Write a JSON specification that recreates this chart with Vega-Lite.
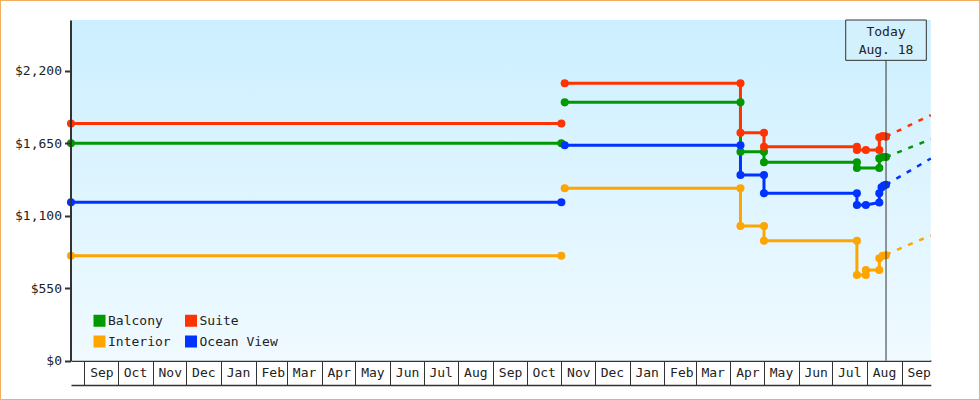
{
  "$schema": "https://vega.github.io/schema/vega-lite/v6.json",
  "width": 980,
  "height": 400,
  "autosize": {"type": "none"},
  "padding": 0,
  "background": "white",
  "config": {
    "view": {"stroke": "#f0b060", "strokeWidth": 2, "fill": "white"},
    "font": "DejaVu Sans Mono"
  },
  "datasets": {
    "prices": [
      {"cabin": "Balcony", "seg": 1, "seq": 1, "date": "2017-08-20", "price": 1650},
      {"cabin": "Balcony", "seg": 1, "seq": 2, "date": "2018-11-01", "price": 1650},
      {"cabin": "Balcony", "seg": 2, "seq": 3, "date": "2018-11-04", "price": 1960},
      {"cabin": "Balcony", "seg": 2, "seq": 4, "date": "2019-04-10", "price": 1960},
      {"cabin": "Balcony", "seg": 2, "seq": 5, "date": "2019-04-10", "price": 1585},
      {"cabin": "Balcony", "seg": 2, "seq": 6, "date": "2019-05-01", "price": 1585},
      {"cabin": "Balcony", "seg": 2, "seq": 7, "date": "2019-05-01", "price": 1505},
      {"cabin": "Balcony", "seg": 2, "seq": 8, "date": "2019-07-23", "price": 1505},
      {"cabin": "Balcony", "seg": 2, "seq": 9, "date": "2019-07-23", "price": 1462},
      {"cabin": "Balcony", "seg": 2, "seq": 10, "date": "2019-08-12", "price": 1462},
      {"cabin": "Balcony", "seg": 2, "seq": 11, "date": "2019-08-12", "price": 1535},
      {"cabin": "Balcony", "seg": 2, "seq": 12, "date": "2019-08-15", "price": 1545},
      {"cabin": "Balcony", "seg": 2, "seq": 13, "date": "2019-08-18", "price": 1545},
      {"cabin": "Suite", "seg": 1, "seq": 1, "date": "2017-08-20", "price": 1800},
      {"cabin": "Suite", "seg": 1, "seq": 2, "date": "2018-11-01", "price": 1800},
      {"cabin": "Suite", "seg": 2, "seq": 3, "date": "2018-11-04", "price": 2105},
      {"cabin": "Suite", "seg": 2, "seq": 4, "date": "2019-04-10", "price": 2105},
      {"cabin": "Suite", "seg": 2, "seq": 5, "date": "2019-04-10", "price": 1730},
      {"cabin": "Suite", "seg": 2, "seq": 6, "date": "2019-05-01", "price": 1730},
      {"cabin": "Suite", "seg": 2, "seq": 7, "date": "2019-05-01", "price": 1624},
      {"cabin": "Suite", "seg": 2, "seq": 8, "date": "2019-07-23", "price": 1624},
      {"cabin": "Suite", "seg": 2, "seq": 9, "date": "2019-07-23", "price": 1598},
      {"cabin": "Suite", "seg": 2, "seq": 10, "date": "2019-07-31", "price": 1598},
      {"cabin": "Suite", "seg": 2, "seq": 11, "date": "2019-08-12", "price": 1598},
      {"cabin": "Suite", "seg": 2, "seq": 12, "date": "2019-08-12", "price": 1695},
      {"cabin": "Suite", "seg": 2, "seq": 13, "date": "2019-08-15", "price": 1705},
      {"cabin": "Suite", "seg": 2, "seq": 14, "date": "2019-08-18", "price": 1700},
      {"cabin": "Interior", "seg": 1, "seq": 1, "date": "2017-08-20", "price": 797},
      {"cabin": "Interior", "seg": 1, "seq": 2, "date": "2018-11-01", "price": 797},
      {"cabin": "Interior", "seg": 2, "seq": 3, "date": "2018-11-04", "price": 1308},
      {"cabin": "Interior", "seg": 2, "seq": 4, "date": "2019-04-10", "price": 1308},
      {"cabin": "Interior", "seg": 2, "seq": 5, "date": "2019-04-10", "price": 1022},
      {"cabin": "Interior", "seg": 2, "seq": 6, "date": "2019-05-01", "price": 1022},
      {"cabin": "Interior", "seg": 2, "seq": 7, "date": "2019-05-01", "price": 910},
      {"cabin": "Interior", "seg": 2, "seq": 8, "date": "2019-07-23", "price": 910},
      {"cabin": "Interior", "seg": 2, "seq": 9, "date": "2019-07-23", "price": 650},
      {"cabin": "Interior", "seg": 2, "seq": 10, "date": "2019-07-31", "price": 650},
      {"cabin": "Interior", "seg": 2, "seq": 11, "date": "2019-07-31", "price": 688},
      {"cabin": "Interior", "seg": 2, "seq": 12, "date": "2019-08-12", "price": 688},
      {"cabin": "Interior", "seg": 2, "seq": 13, "date": "2019-08-12", "price": 777},
      {"cabin": "Interior", "seg": 2, "seq": 14, "date": "2019-08-15", "price": 797},
      {"cabin": "Interior", "seg": 2, "seq": 15, "date": "2019-08-18", "price": 800},
      {"cabin": "Ocean View", "seg": 1, "seq": 1, "date": "2017-08-20", "price": 1202},
      {"cabin": "Ocean View", "seg": 1, "seq": 2, "date": "2018-11-01", "price": 1202},
      {"cabin": "Ocean View", "seg": 2, "seq": 3, "date": "2018-11-04", "price": 1634},
      {"cabin": "Ocean View", "seg": 2, "seq": 4, "date": "2019-04-10", "price": 1634},
      {"cabin": "Ocean View", "seg": 2, "seq": 5, "date": "2019-04-10", "price": 1409},
      {"cabin": "Ocean View", "seg": 2, "seq": 6, "date": "2019-05-01", "price": 1409},
      {"cabin": "Ocean View", "seg": 2, "seq": 7, "date": "2019-05-01", "price": 1270},
      {"cabin": "Ocean View", "seg": 2, "seq": 8, "date": "2019-07-23", "price": 1270},
      {"cabin": "Ocean View", "seg": 2, "seq": 9, "date": "2019-07-23", "price": 1181},
      {"cabin": "Ocean View", "seg": 2, "seq": 10, "date": "2019-07-31", "price": 1181},
      {"cabin": "Ocean View", "seg": 2, "seq": 11, "date": "2019-08-12", "price": 1200},
      {"cabin": "Ocean View", "seg": 2, "seq": 12, "date": "2019-08-12", "price": 1270},
      {"cabin": "Ocean View", "seg": 2, "seq": 13, "date": "2019-08-14", "price": 1315},
      {"cabin": "Ocean View", "seg": 2, "seq": 14, "date": "2019-08-16", "price": 1330},
      {"cabin": "Ocean View", "seg": 2, "seq": 15, "date": "2019-08-18", "price": 1335}
    ],
    "forecast": [
      {"cabin": "Suite", "date": "2019-08-18", "price": 1700},
      {"cabin": "Suite", "date": "2019-09-27", "price": 1864},
      {"cabin": "Balcony", "date": "2019-08-18", "price": 1545},
      {"cabin": "Balcony", "date": "2019-09-27", "price": 1680},
      {"cabin": "Ocean View", "date": "2019-08-18", "price": 1335},
      {"cabin": "Ocean View", "date": "2019-09-27", "price": 1534},
      {"cabin": "Interior", "date": "2019-08-18", "price": 805},
      {"cabin": "Interior", "date": "2019-09-27", "price": 950}
    ]
  },
  "resolve": {"axis": {"x": "independent", "y": "independent"}, "legend": {"color": "independent"}},
  "layer": [
    {
      "data": {"values": [{}]},
      "mark": {"type": "rect", "fill": {"gradient": "linear", "x1": 0, "y1": 0, "x2": 0, "y2": 1, "stops": [{"offset": 0, "color": "#ccefff"}, {"offset": 1, "color": "#f0faff"}]}},
      "encoding": {
        "x": {"datum": {"year": 2017, "month": 8, "date": 20, "utc": true}, "type": "temporal", "axis": null},
        "x2": {"datum": {"year": 2019, "month": 9, "date": 27, "utc": true}},
        "y": {"datum": 0, "type": "quantitative", "axis": null},
        "y2": {"datum": 2585}
      }
    },
    {
      "data": {"name": "forecast"},
      "mark": {"type": "line", "strokeWidth": 2.5, "strokeDash": [5, 7]},
      "encoding": {
        "x": {"field": "date", "type": "temporal", "axis": null},
        "y": {"field": "price", "type": "quantitative", "axis": null},
        "color": {"field": "cabin", "type": "nominal", "legend": null}
      }
    },
    {
      "data": {"name": "prices"},
      "mark": {"type": "line", "strokeWidth": 3},
      "encoding": {
        "x": {
          "field": "date",
          "type": "temporal",
          "scale": {"type": "utc", "domain": [{"year": 2017, "month": 8, "date": 20, "utc": true}, {"year": 2019, "month": 9, "date": 27, "utc": true}], "range": [71, 930.8]},
          "axis": {
            "orient": "bottom",
            "offset": -39.5,
            "title": null,
            "format": "%b",
            "tickCount": {"interval": "month", "step": 1},
            "tickSize": 24,
            "tickColor": "#333",
            "tickWidth": 1,
            "domainColor": "#333",
            "domainWidth": 2,
            "labelPadding": -12,
            "labelOffset": 17,
            "labelAlign": "center",
            "labelBaseline": "middle",
            "labelFont": "DejaVu Sans Mono",
            "labelFontSize": 13,
            "labelColor": "#222",
            "labelOverlap": false,
            "labelBound": false,
            "labelFlush": false,
            "grid": false
          }
        },
        "y": {
          "field": "price",
          "type": "quantitative",
          "scale": {"domain": [0, 2585], "range": [360.7, 20], "nice": false, "zero": true},
          "axis": {
            "orient": "left",
            "offset": -70.5,
            "values": [0, 550, 1100, 1650, 2200],
            "format": "$,.0f",
            "title": null,
            "grid": false,
            "zindex": 1,
            "domainColor": "#333",
            "domainWidth": 2,
            "tickColor": "#333",
            "tickWidth": 2,
            "tickSize": 6,
            "labelPadding": 3,
            "labelFont": "DejaVu Sans Mono",
            "labelFontSize": 13,
            "labelColor": "#222"
          }
        },
        "color": {
          "field": "cabin",
          "type": "nominal",
          "scale": {"domain": ["Balcony", "Interior", "Suite", "Ocean View"], "range": ["#009900", "#ffa500", "#ff3300", "#0033ff"]},
          "legend": null
        },
        "detail": {"field": "seg", "type": "nominal"},
        "order": {"field": "seq", "type": "quantitative"}
      }
    },
    {
      "data": {"name": "prices"},
      "mark": {"type": "point", "filled": true, "size": 65, "opacity": 1},
      "encoding": {
        "x": {
          "field": "date",
          "type": "temporal",
          "axis": {"orient": "bottom", "offset": -15, "ticks": false, "labels": false, "domain": true, "domainColor": "#333", "domainWidth": 1.5, "title": null, "grid": false}
        },
        "y": {"field": "price", "type": "quantitative", "axis": null},
        "color": {
          "field": "cabin",
          "type": "nominal",
          "legend": {
            "orient": "none",
            "legendX": 93,
            "legendY": 314,
            "columns": 2,
            "symbolType": "square",
            "symbolSize": 144,
            "symbolStrokeWidth": 0,
            "symbolOpacity": 1,
            "labelFont": "DejaVu Sans Mono",
            "labelFontSize": 13,
            "labelColor": "#222",
            "labelOffset": 2,
            "columnPadding": 13.5,
            "rowPadding": 7,
            "padding": 0,
            "title": null,
            "zindex": 2
          }
        }
      }
    },
    {
      "data": {"values": [{}]},
      "mark": {"type": "rule", "color": "#333", "strokeWidth": 1},
      "encoding": {
        "x": {"datum": {"year": 2019, "month": 8, "date": 18, "utc": true}, "type": "temporal", "axis": null},
        "y": {"datum": 0, "type": "quantitative", "axis": null},
        "y2": {"datum": 2279}
      }
    },
    {
      "data": {"values": [{}]},
      "mark": {"type": "rect", "fill": "#d2f1fd", "fillOpacity": 1, "stroke": "#333", "strokeWidth": 1},
      "encoding": {
        "x": {"datum": {"year": 2019, "month": 7, "date": 13, "utc": true}, "type": "temporal", "axis": null},
        "x2": {"datum": {"year": 2019, "month": 9, "date": 23, "utc": true}},
        "y": {"datum": 2279, "type": "quantitative", "axis": null},
        "y2": {"datum": 2585}
      }
    },
    {
      "data": {"values": [{}]},
      "mark": {"type": "text", "text": ["Today", "Aug. 18"], "lineHeight": 18, "baseline": "middle", "align": "center", "font": "DejaVu Sans Mono", "fontSize": 13, "color": "#222"},
      "encoding": {
        "x": {"datum": {"year": 2019, "month": 8, "date": 18, "utc": true}, "type": "temporal", "axis": null},
        "y": {"datum": 2491, "type": "quantitative", "axis": null}
      }
    }
  ]
}
